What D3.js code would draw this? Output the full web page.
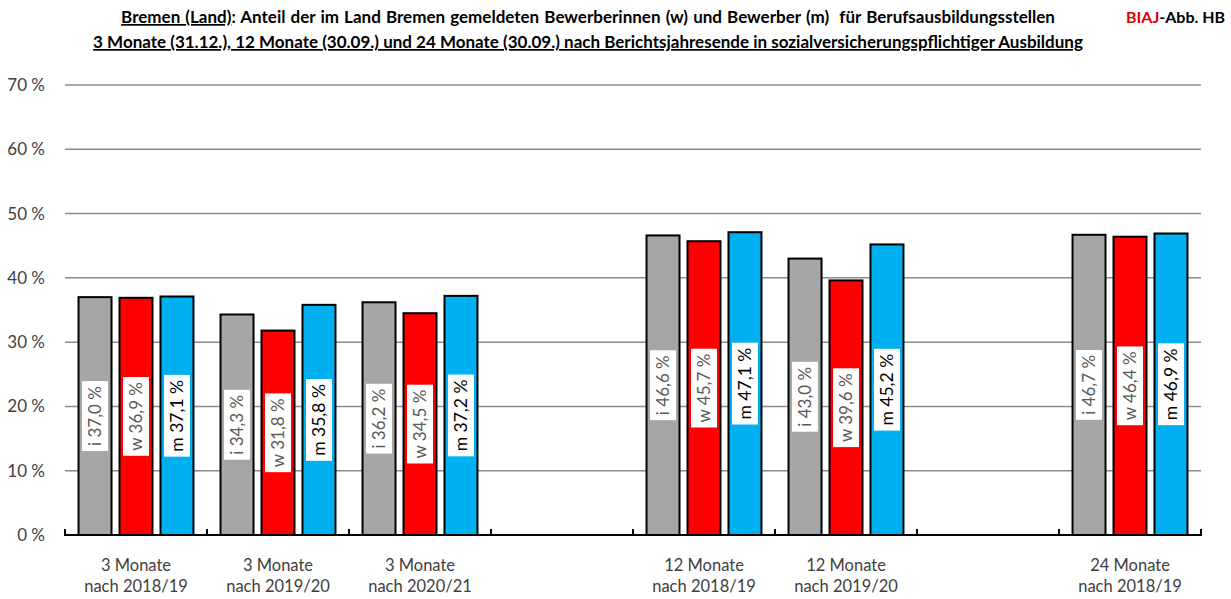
<!DOCTYPE html>
<html>
<head>
<meta charset="utf-8">
<script src="https://cdn.jsdelivr.net/npm/d3@7/dist/d3.min.js"></script>
<style>
  body { margin: 0; background: #fff; }
  svg { display: block; font-family: Lato, "Open Sans", sans-serif; }
  .title { white-space: pre; }
</style>
</head>
<body>
<svg class="chart"></svg>
<script>
// data
const categories = ["3 Monate|nach 2018/19", "3 Monate|nach 2019/20", "3 Monate|nach 2020/21", "gap1",
  "12 Monate|nach 2018/19", "12 Monate|nach 2019/20", "gap2", "24 Monate|nach 2018/19"];
const seriesKeys = ["i", "w", "m"];
const valuesI = [37.0, 34.3, 36.2, null, 46.6, 43.0, null, 46.7];
const valuesW = [36.9, 31.8, 34.5, null, 45.7, 39.6, null, 46.4];
const valuesM = [37.1, 35.8, 37.2, null, 47.1, 45.2, null, 46.9];
const yTicks = [0, 10, 20, 30, 40, 50, 60, 70];

const width = 1231, height = 599;
const svg = d3.select(".chart").attr("width", width).attr("height", height);

let x = d3.scaleBand().domain(categories).range([65, 1201]).padding(0);
let xs = d3.scaleBand().domain(seriesKeys).range([0, x.bandwidth()]).paddingInner(0.195).paddingOuter(0.33);
let y = d3.scaleLinear().domain([0, 70]).range([535, 85]);

let colors = { i: "#a6a6a6", w: "#ff0000", m: "#00b0f0" };
let labelColors = { i: "#595959", w: "#595959", m: "#000" };
let seriesVals = { i: valuesI, w: valuesW, m: valuesM };

// gridlines
svg.append("g").selectAll("line")
  .data(yTicks.filter(d => d > 0))
  .join("line")
  .attr("x1", 65).attr("x2", 1201)
  .attr("y1", d => y(d)).attr("y2", d => y(d))
  .attr("stroke", "#8c8c8c").attr("stroke-width", 1.5);

// y labels
svg.append("g").selectAll("text")
  .data(yTicks)
  .join("text")
  .attr("x", 45).attr("y", d => y(d) + 6)
  .attr("text-anchor", "end")
  .attr("font-size", 17).attr("fill", "#404040")
  .text(d => d + " %");

// bars
let rows = [];
categories.forEach((c, i) => {
  seriesKeys.forEach(k => {
    let v = seriesVals[k][i];
    if (v != null) rows.push({ cat: c, key: k, value: v });
  });
});

let bars = svg.append("g");
bars.selectAll("rect")
  .data(rows)
  .join("rect")
  .attr("x", d => x(d.cat) + xs(d.key))
  .attr("y", d => y(d.value))
  .attr("width", xs.bandwidth())
  .attr("height", d => y(0) - y(d.value))
  .attr("fill", d => colors[d.key])
  .attr("stroke", "#000").attr("stroke-width", 2);

// labels in bars
let labels = svg.append("g").selectAll("g")
  .data(rows)
  .join("g")
  .attr("transform", d => {
    let cx = x(d.cat) + xs(d.key) + xs.bandwidth() / 2;
    let cy = (y(d.value) + y(0)) / 2;
    return "translate(" + cx + "," + cy + ") rotate(-90)";
  });

labels.each(function(d) {
  let g = d3.select(this);
  let txt = (d.key === "i" ? "i " : d.key + "  ") + d3.format(".1f")(d.value).replace(".", ",") + " %";
  let t = g.append("text")
    .attr("text-anchor", "middle")
    .attr("y", 6)
    .attr("font-size", d.key === "m" ? 17.5 : 17)
    .attr("fill", labelColors[d.key])
    .text(txt);
  let len = t.node().getComputedTextLength();
  g.insert("rect", "text")
    .attr("x", -len / 2 - 5).attr("y", -13)
    .attr("width", len + 10).attr("height", 26)
    .attr("fill", "#fff");
});

// x axis line and ticks
svg.append("line")
  .attr("x1", 64).attr("x2", 1202)
  .attr("y1", 535).attr("y2", 535)
  .attr("stroke", "#000").attr("stroke-width", 2);

let bounds = categories.map(c => x(c)).concat([x(categories[categories.length - 1]) + x.bandwidth()]);
svg.append("g").selectAll("line")
  .data(bounds)
  .join("line")
  .attr("x1", d => d).attr("x2", d => d)
  .attr("y1", 535).attr("y2", 529)
  .attr("stroke", "#000").attr("stroke-width", 2);

// x labels
let xl = svg.append("g").selectAll("text")
  .data(categories.filter(c => c.indexOf("|") > 0))
  .join("text")
  .attr("text-anchor", "middle")
  .attr("font-size", 16.5).attr("fill", "#404040")
  .attr("transform", d => "translate(" + (x(d) + x.bandwidth() / 2) + ",0)");
xl.append("tspan").attr("x", 0).attr("y", 571).text(d => d.split("|")[0]);
xl.append("tspan").attr("x", 0).attr("y", 592).text(d => d.split("|")[1]);

// title
let t1 = svg.append("text").attr("class", "title")
  .attr("x", 588).attr("y", 23)
  .attr("text-anchor", "middle")
  .attr("font-size", 17).attr("font-weight", "bold").attr("fill", "#000")
  .attr("word-spacing", 1);
t1.append("tspan").attr("text-decoration", "underline").text("Bremen (Land)");
t1.append("tspan").text(": Anteil der im Land Bremen gemeldeten Bewerberinnen (w) und Bewerber (m)  für Berufsausbildungsstellen");

svg.append("text")
  .attr("x", 588).attr("y", 48)
  .attr("text-anchor", "middle")
  .attr("font-size", 17).attr("font-weight", "bold").attr("fill", "#000")
  .attr("text-decoration", "underline")
  .text("3 Monate (31.12.), 12 Monate (30.09.) und 24 Monate (30.09.) nach Berichtsjahresende in sozialversicherungspflichtiger Ausbildung");

let biaj = svg.append("text")
  .attr("x", 1126).attr("y", 23)
  .attr("font-size", 16).attr("font-weight", "bold");
biaj.append("tspan").attr("fill", "#e00000").text("BIAJ");
biaj.append("tspan").attr("fill", "#000").text("-Abb. HB");
</script>
</body>
</html>
